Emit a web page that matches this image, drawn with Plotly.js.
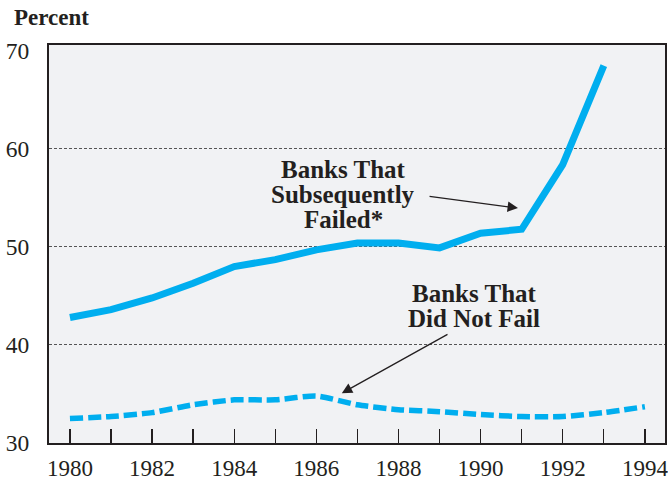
<!DOCTYPE html>
<html>
<head>
<meta charset="utf-8">
<script src="https://cdn.plot.ly/plotly-3.0.1.min.js"></script>
<style>html,body{margin:0;padding:0;background:#fff;}#chart{width:668px;height:480px;}</style>
</head>
<body>
<div id="chart"></div>
<script>
var years = [1980,1981,1982,1983,1984,1985,1986,1987,1988,1989,1990,1991,1992,1993,1994];
var failedYears = [1980,1981,1982,1983,1984,1985,1986,1987,1988,1989,1990,1991,1992,1993];
var failedValues = [42.8,43.6,44.8,46.3,48.0,48.7,49.7,50.4,50.4,49.9,51.4,51.8,58.4,68.5];
var notFailedValues = [32.5,32.7,33.1,33.9,34.4,34.4,34.8,33.9,33.4,33.2,32.9,32.7,32.7,33.1,33.7];
var xTickLabels = ['1980','','1982','','1984','','1986','','1988','','1990','','1992','','1994'];
var yTickVals = [30,40,50,60,70];
var gridVals = [40,50,60];
var failedLabel = ['Banks That','Subsequently','Failed*'];
var notFailedLabel = ['Banks That','Did Not Fail'];

var blue = '#00aeef';
var ink = '#231f20';
var serif = 'Liberation Serif, Times New Roman, serif';

var traces = [
  {x: failedYears, y: failedValues, type: 'scatter', mode: 'lines',
   line: {color: blue, width: 7, shape: 'linear'}, hoverinfo: 'skip'},
  {x: years, y: notFailedValues, type: 'scatter', mode: 'lines',
   line: {color: blue, width: 5.5, dash: '13px,5px', shape: 'spline', smoothing: 0.6}, hoverinfo: 'skip'}
];

var annotations = [
  {xref: 'paper', yref: 'paper', x: -0.060, y: 1.069, xanchor: 'left', yanchor: 'middle',
   text: '<b>Percent</b>', showarrow: false, font: {family: serif, size: 23, color: ink}},
  {xref: 'x', yref: 'y', x: 1990.91, y: 53.96, axref: 'x', ayref: 'y', ax: 1988.72, ay: 55.18,
   text: '', showarrow: true, arrowhead: 2, arrowsize: 1.6, arrowwidth: 1.3, arrowcolor: ink},
  {xref: 'x', yref: 'y', x: 1986.62, y: 35.08, axref: 'x', ayref: 'y', ax: 1989.23, ay: 41.17,
   text: '', showarrow: true, arrowhead: 2, arrowsize: 1.6, arrowwidth: 1.3, arrowcolor: ink}
];
var failedLineY = [57.95, 55.35, 52.75];
failedLabel.forEach(function (t, i) {
  annotations.push({xref: 'x', yref: 'y', x: 1986.65, y: failedLineY[i], yanchor: 'middle',
    text: '<b>' + t + '</b>', showarrow: false, font: {family: serif, size: 25, color: ink}});
});
var notFailedLineY = [45.3, 42.75];
notFailedLabel.forEach(function (t, i) {
  annotations.push({xref: 'x', yref: 'y', x: 1989.84, y: notFailedLineY[i], yanchor: 'middle',
    text: '<b>' + t + '</b>', showarrow: false, font: {family: serif, size: 25, color: ink}});
});

var layout = {
  width: 668, height: 480,
  margin: {l: 49, r: 3, t: 45, b: 37},
  paper_bgcolor: '#ffffff',
  plot_bgcolor: '#f1f2f4',
  showlegend: false,
  font: {family: serif, color: ink, size: 23},
  xaxis: {
    range: [1979.49, 1994.49],
    tickvals: years, ticktext: xTickLabels,
    ticks: 'inside', ticklen: 14, tickwidth: 1.3, tickcolor: ink,
    showgrid: false, zeroline: false,
    showline: true, mirror: true, linecolor: ink, linewidth: 2,
    tickfont: {family: serif, size: 23, color: ink},
    ticklabelstandoff: 3,
    ticklabeloverflow: 'allow'
  },
  yaxis: {
    range: [30, 70.6],
    tickvals: yTickVals,
    ticks: '', showgrid: false, zeroline: false,
    showline: true, mirror: true, linecolor: ink, linewidth: 2,
    tickfont: {family: serif, size: 23.5, color: ink},
    ticklabelstandoff: 13,
    ticklabeloverflow: 'allow',
    minor: {tickvals: gridVals, showgrid: true, gridcolor: '#555555', gridwidth: 1, griddash: '3px,2px', ticks: ''}
  },
  annotations: annotations
};

Plotly.newPlot('chart', traces, layout, {staticPlot: true, displayModeBar: false});
</script>
</body>
</html>
